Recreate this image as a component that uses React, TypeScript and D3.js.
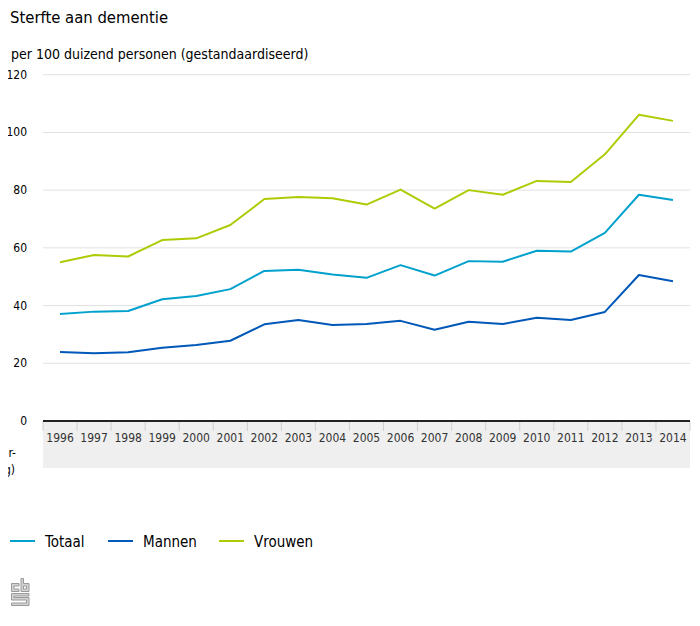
// @ts-nocheck
import React, { useEffect, useRef } from 'react';
import * as d3 from 'd3';

const years = ['1996', '1997', '1998', '1999', '2000', '2001', '2002', '2003', '2004', '2005',
    '2006', '2007', '2008', '2009', '2010', '2011', '2012', '2013', '2014'];
const totaal = [37.1, 37.9, 38.1, 42.2, 43.3, 45.7, 52.0, 52.4, 50.8, 49.6, 54.0, 50.4, 55.4, 55.2, 59.0, 58.7, 65.2, 78.4, 76.6];
const mannen = [23.9, 23.5, 23.8, 25.4, 26.3, 27.8, 33.5, 35.0, 33.3, 33.6, 34.7, 31.6, 34.4, 33.6, 35.8, 35.0, 37.8, 50.6, 48.4];
const vrouwen = [55.0, 57.5, 57.0, 62.7, 63.3, 67.9, 76.9, 77.6, 77.2, 75.0, 80.2, 73.6, 80.0, 78.4, 83.2, 82.8, 92.4, 106.1, 104.0];
const yTicks = [0, 20, 40, 60, 80, 100, 120];

const series = [
    { name: 'Totaal', color: '#00a1cd', values: totaal },
    { name: 'Mannen', color: '#0058b8', values: mannen },
    { name: 'Vrouwen', color: '#afcb05', values: vrouwen },
];

const W = 700, H = 626;
const left = 43, right = 690, top = 74.7, bottom = 421;
const font = '"DejaVu Sans Condensed", "DejaVu Sans", sans-serif';

export default function App() {
    const ref = useRef(null);

    useEffect(() => {
        const svg = d3.select(ref.current);
        svg.selectAll('*').remove();

        const x = d3.scaleBand().domain(years).range([left, right]).padding(0);
        const y = d3.scaleLinear().domain([0, 120]).range([bottom, top]);

        /* Titles */
        svg.append('text').attr('x', 10).attr('y', 23)
            .style('font', `16.5px ${font}`).attr('fill', '#000').text('Sterfte aan dementie');
        svg.append('text').attr('x', 11).attr('y', 59)
            .style('font', `14px ${font}`).attr('fill', '#000').text('per 100 duizend personen (gestandaardiseerd)');

        /* Grid + y labels */
        const grid = svg.append('g');
        grid.selectAll('line').data(yTicks.filter(d => d > 0)).join('line')
            .attr('x1', left).attr('x2', right)
            .attr('y1', d => y(d)).attr('y2', d => y(d))
            .attr('stroke', '#e1e1e1').attr('stroke-width', 1);
        grid.selectAll('text').data(yTicks).join('text')
            .attr('x', 27).attr('y', d => y(d) + 4)
            .attr('text-anchor', 'end')
            .style('font', `12px ${font}`).attr('fill', '#000')
            .text(d => d);

        /* X axis band */
        svg.append('rect').attr('x', left).attr('y', bottom).attr('width', right - left).attr('height', 468 - bottom)
            .attr('fill', '#efefef');
        const xa = svg.append('g');
        xa.selectAll('line').data(years.concat(['end'])).join('line')
            .attr('x1', (d, i) => left + i * x.bandwidth()).attr('x2', (d, i) => left + i * x.bandwidth())
            .attr('y1', bottom).attr('y2', bottom + 10)
            .attr('stroke', '#cfcfcf').attr('stroke-width', 1);
        xa.selectAll('text').data(years).join('text')
            .attr('x', d => x(d) + x.bandwidth() / 2).attr('y', 442)
            .attr('text-anchor', 'middle')
            .style('font', `12px ${font}`).attr('fill', '#333')
            .text(d => d);
        svg.append('line').attr('x1', left).attr('x2', right).attr('y1', bottom).attr('y2', bottom)
            .attr('stroke', '#222').attr('stroke-width', 2);

        /* footnote label, cut at the left edge as in the original */
        const fn = svg.append('text').attr('text-anchor', 'end').style('font', `12px ${font}`).attr('fill', '#000');
        fn.append('tspan').attr('x', 16).attr('y', 457).text('(voor-');
        fn.append('tspan').attr('x', 15).attr('y', 474).text('lopig)');

        /* Lines */
        const line = d3.line<number>()
            .x((d, i) => x(years[i]) + x.bandwidth() / 2)
            .y(d => y(d));
        svg.append('g').selectAll('path').data(series).join('path')
            .attr('d', d => line(d.values))
            .attr('fill', 'none')
            .attr('stroke', d => d.color)
            .attr('stroke-width', 2)
            .attr('stroke-linejoin', 'round');

        /* Legend */
        const lx = [10, 108, 219];
        const lg = svg.append('g').selectAll('g').data(series).join('g')
            .attr('transform', (d, i) => `translate(${lx[i]},541)`);
        lg.append('line').attr('x1', 0).attr('x2', 25).attr('y1', 0).attr('y2', 0)
            .attr('stroke', d => d.color).attr('stroke-width', 2);
        lg.append('text').attr('x', 35).attr('y', 5.5)
            .style('font', `15px ${font}`).attr('fill', '#000')
            .text(d => d.name);

        /* cbs logo */
        const logo = svg.append('g').attr('transform', 'translate(11,578)')
            .attr('fill', '#d2d2d2').attr('stroke', '#9a9a9a').attr('stroke-width', 1);
        logo.append('path').attr('d', 'M0.5 5.5 H8 V8 H3 V11 H8 V13.5 H0.5 Z');
        logo.append('path').attr('d', 'M10 0.5 H12.5 V5.5 H18 V13.5 H10 Z M12.5 8 V11 H15.5 V8 Z');
        logo.append('path').attr('d', 'M0.5 15.5 H18 V18 H3 V19.5 H18 V27.5 H0.5 V25 H15.5 V22 H0.5 Z');
    }, []);

    return (
        <div style={{ margin: -8 }}>
            <svg ref={ref} width={W} height={H} style={{ display: 'block', background: '#fff' }} />
        </div>
    );
}
